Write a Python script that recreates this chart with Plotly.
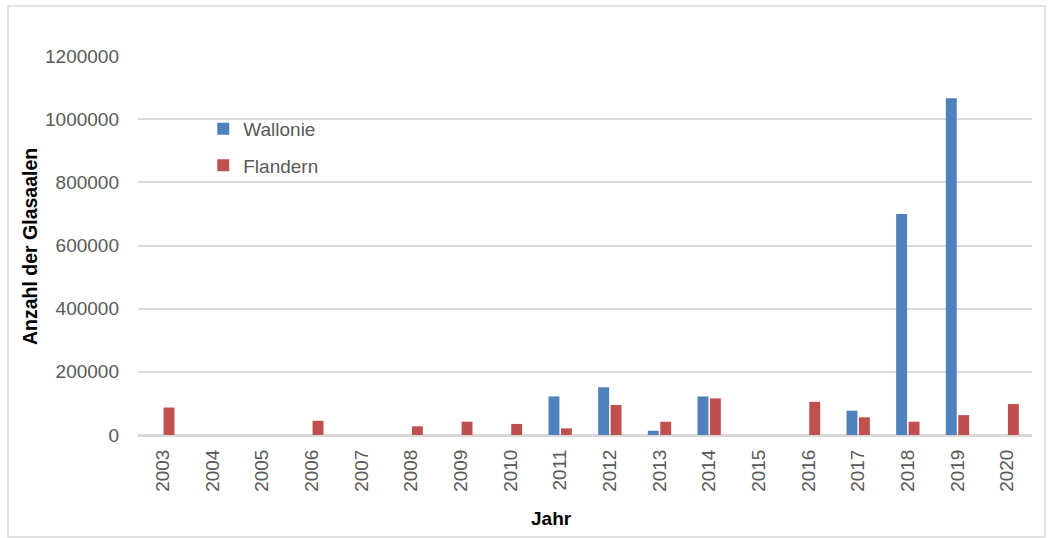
import plotly.graph_objects as go

years = [str(y) for y in range(2003, 2021)]
wallonie = [None, None, None, None, None, None, None, None,
            122000, 151000, 13500, 122000, None, None, 77000, 700000, 1066000, None]
flandern = [87000, None, None, 45000, None, 27500, 42000, 35000,
            21000, 95000, 42000, 116000, None, 105000, 56000, 42000, 63000, 98000]
y_ticks = [0, 200000, 400000, 600000, 800000, 1000000, 1200000]

FONT = "Liberation Sans, Arial, sans-serif"
GRAY = "#595959"

fig = go.Figure()
fig.add_trace(go.Bar(x=years, y=wallonie, name="Wallonie", marker_color="#4F81BD",
                     legendgroup="a", marker_line_width=0))
fig.add_trace(go.Bar(x=years, y=flandern, name="Flandern", marker_color="#C0504D",
                     legendgroup="b", marker_line_width=0))

fig.update_layout(
    width=1048, height=538,
    margin=dict(l=138, r=16, t=56, b=103),
    paper_bgcolor="white", plot_bgcolor="white",
    barmode="group", bargap=0.5, bargroupgap=0.12,
    font=dict(family=FONT, size=19, color=GRAY),
    showlegend=True,
    legend=dict(x=0.073, y=0.858, xanchor="left", yanchor="top",
                bgcolor="rgba(0,0,0,0)", tracegroupgap=9,
                font=dict(size=19, color=GRAY)),
    xaxis=dict(type="category", tickangle=-90, showgrid=False,
               showline=True, linecolor="#D9D9D9", linewidth=2,
               ticks="", ticklabelstandoff=5, tickfont=dict(size=19, color=GRAY)),
    yaxis=dict(range=[0, 1200000], tickvals=y_ticks,
               ticktext=[str(v) for v in y_ticks],
               showgrid=True, gridcolor="#D9D9D9", gridwidth=2,
               zeroline=True, zerolinecolor="#D9D9D9", zerolinewidth=2,
               showline=False, ticks="", ticklabelstandoff=18,
               tickfont=dict(size=19, color=GRAY)),
    annotations=[
        dict(text="<b>Anzahl der Glasaalen</b>", xref="paper", yref="paper",
             x=(30 - 138) / 894, y=(435 - 247) / 379, xanchor="center", yanchor="middle",
             textangle=-90, showarrow=False,
             font=dict(size=19.5, color="black", family=FONT)),
        dict(text="<b>Jahr</b>", xref="paper", yref="paper",
             x=(551 - 138) / 894, y=(435 - 518) / 379, xanchor="center", yanchor="middle",
             showarrow=False,
             font=dict(size=19, color="black", family=FONT)),
    ],
    shapes=[dict(type="rect", xref="paper", yref="paper",
                 x0=(8 - 138) / 894, x1=(1045 - 138) / 894,
                 y0=(435 - 537) / 379, y1=(435 - 6) / 379,
                 line=dict(color="#D9D9D9", width=1.5), fillcolor="rgba(0,0,0,0)",
                 layer="below")],
)

fig.write_html("out.html")
